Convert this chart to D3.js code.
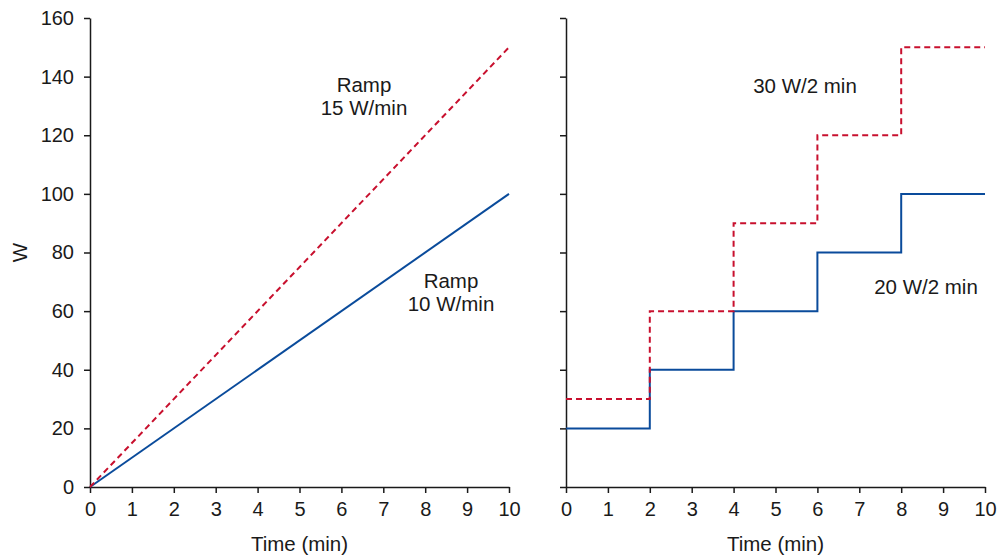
<!DOCTYPE html>
<html>
<head>
<meta charset="utf-8">
<script src="https://cdn.jsdelivr.net/npm/d3@7"></script>
<style>
  body { margin: 0; background: #fff; }
  svg text { font-family: "Liberation Sans", Arial, sans-serif; fill: #1a1a1a; }
</style>
</head>
<body>
<svg id="chart" width="998" height="557"></svg>
<script>
// data
const xTicks = [0, 1, 2, 3, 4, 5, 6, 7, 8, 9, 10];
const yTicks = [0, 20, 40, 60, 80, 100, 120, 140, 160];
const rampTime = [0, 10];
const ramp10 = [0, 100];
const ramp15 = [0, 150];
const stepTime = [0, 2, 4, 6, 8, 10];
const step20 = [20, 40, 60, 80, 100, 100];
const step30 = [30, 60, 90, 120, 150, 150];

const blue = "#0a4b9b";
const red = "#c8102e";
const tickFs = 20;
const fs = 20.5;

let svg = d3.select("#chart");

let y = d3.scaleLinear().domain([0, 160]).range([487, 18]);
let xL = d3.scaleLinear().domain([0, 10]).range([90, 509]);
let xR = d3.scaleLinear().domain([0, 10]).range([566, 985]);

function drawAxes(x, withLabels) {
    let gx = svg.append("g")
        .attr("transform", `translate(0,${y(0)})`)
        .call(d3.axisBottom(x).tickValues(xTicks).tickSize(6).tickSizeOuter(0).tickPadding(9));
    let gy = svg.append("g")
        .attr("transform", `translate(${x(0)},0)`)
        .call(d3.axisLeft(y).tickValues(yTicks).tickSize(6).tickSizeOuter(0).tickPadding(10)
            .tickFormat(withLabels ? d3.format("d") : ""));
    [gx, gy].forEach(g => {
        g.select(".domain").attr("stroke", "#1a1a1a").attr("stroke-width", 1.5);
        g.selectAll(".tick line").attr("stroke", "#1a1a1a").attr("stroke-width", 1.5);
        g.selectAll("text").attr("font-size", tickFs).attr("fill", "#1a1a1a")
            .style("font-family", '"Liberation Sans", Arial, sans-serif');
    });
    svg.append("text")
        .attr("x", (x.range()[0] + x.range()[1]) / 2)
        .attr("y", 551)
        .attr("text-anchor", "middle")
        .attr("font-size", fs)
        .text("Time (min)");
}

drawAxes(xL, true);
drawAxes(xR, false);

svg.append("text")
    .attr("transform", `translate(27,${y(80)}) rotate(-90)`)
    .attr("text-anchor", "middle")
    .attr("font-size", fs)
    .text("W");

// left: ramps
let lineL = d3.line().x(d => xL(d[0])).y(d => y(d[1]));
svg.append("path")
    .attr("d", lineL(d3.zip(rampTime, ramp10)))
    .attr("fill", "none").attr("stroke", blue).attr("stroke-width", 2);
svg.append("path")
    .attr("d", lineL(d3.zip(rampTime, ramp15)))
    .attr("fill", "none").attr("stroke", red).attr("stroke-width", 2)
    .attr("stroke-dasharray", "6,4");

// right: steps
let lineR = d3.line().x(d => xR(d[0])).y(d => y(d[1])).curve(d3.curveStepAfter);
svg.append("path")
    .attr("d", lineR(d3.zip(stepTime, step20)))
    .attr("fill", "none").attr("stroke", blue).attr("stroke-width", 2);
svg.append("path")
    .attr("d", lineR(d3.zip(stepTime, step30)))
    .attr("fill", "none").attr("stroke", red).attr("stroke-width", 2)
    .attr("stroke-dasharray", "6,4");

// annotations
function label(x, yy, lines) {
    let t = svg.append("text").attr("text-anchor", "middle").attr("font-size", fs);
    lines.forEach((s, i) => t.append("tspan").attr("x", x).attr("y", yy + i * 23).text(s));
}
label(364, 92, ["Ramp", "15 W/min"]);
label(451, 288, ["Ramp", "10 W/min"]);
label(805, 93, ["30 W/2 min"]);
label(926, 294, ["20 W/2 min"]);
</script>
</body>
</html>
